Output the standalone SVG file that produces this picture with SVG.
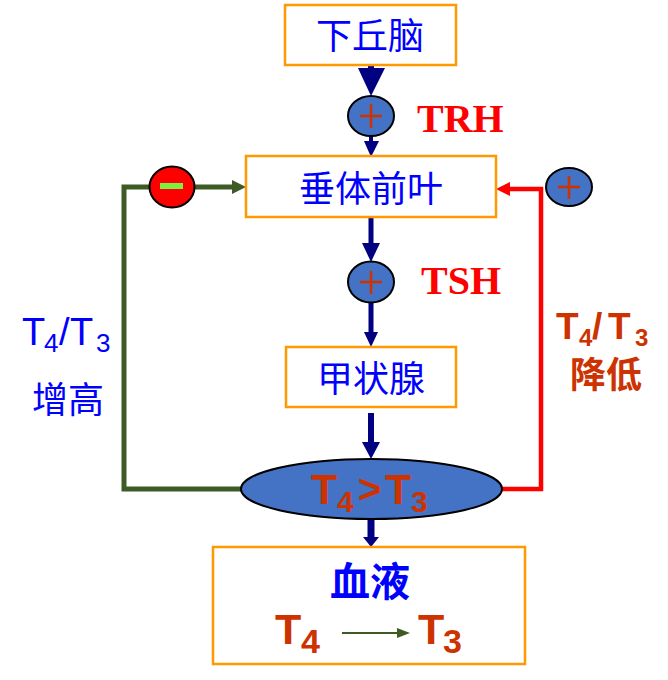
<svg xmlns="http://www.w3.org/2000/svg" width="668" height="680" viewBox="0 0 668 680">
<style>
.box{fill:#fff;stroke:#FF9900;stroke-width:2.5}
.cj{font-family:"Noto Sans CJK SC","Liberation Sans",sans-serif;fill:#0000FF;text-anchor:middle}
.tnr{font-family:"Liberation Serif",serif;font-weight:bold;fill:#FF0000}
.sans{font-family:"Liberation Sans","Noto Sans CJK SC",sans-serif}
.orng{fill:#CC3300}
.navy{fill:#000080}
.nav{stroke:#000080;fill:none}
.circ{fill:#4472C4;stroke:#000;stroke-width:2}
.plus{stroke:#CC3300;stroke-width:2.5;fill:none}
</style>
<rect width="668" height="680" fill="#fff"/>
<g id="connectors">
  <line class="nav" x1="371" y1="66" x2="371" y2="72" stroke-width="6"/>
  <polygon class="navy" points="358,68 385,68 371,96"/>
  <line class="nav" x1="371" y1="136" x2="371" y2="143" stroke-width="4"/>
  <polygon class="navy" points="364,141 379,141 371,157"/>
  <line class="nav" x1="371" y1="218" x2="371" y2="246" stroke-width="5"/>
  <polygon class="navy" points="362,243 380,243 371,262"/>
  <line class="nav" x1="371" y1="302" x2="371" y2="334" stroke-width="5"/>
  <polygon class="navy" points="364,332 378,332 371,347"/>
  <line class="nav" x1="371" y1="413" x2="371" y2="444" stroke-width="6"/>
  <polygon class="navy" points="362,442 380,442 371,459"/>
  <line class="nav" x1="371" y1="519" x2="371" y2="539" stroke-width="7"/>
  <polygon class="navy" points="363,537 379,537 371,547"/>
  <polyline points="241,489 124,489 124,187 234,187" fill="none" stroke="#3E5B26" stroke-width="5"/>
  <polygon points="232,180 246,187 232,194" fill="#3E5B26"/>
  <polyline points="502,489 541,489 541,189 508,189" fill="none" stroke="#FF0000" stroke-width="4.5"/>
  <polygon points="510,182 496,189 510,196" fill="#FF0000"/>
</g>
<g id="hypothalamus">
  <rect class="box" x="285" y="5" width="171" height="60"/>
  <text class="cj" x="370" y="49" font-size="36">下丘脑</text>
</g>
<g id="trh">
  <ellipse class="circ" cx="371" cy="116" rx="23" ry="20"/>
  <path class="plus" d="M360,116H382M371,104V128"/>
  <text class="tnr" x="417" y="132" font-size="40">TRH</text>
</g>
<g id="pituitary">
  <rect class="box" x="246" y="156" width="250" height="61"/>
  <text class="cj" x="371" y="202" font-size="36">垂体前叶</text>
</g>
<g id="minus">
  <ellipse cx="172" cy="187" rx="22.5" ry="20.5" fill="#FF0000" stroke="#000" stroke-width="2"/>
  <rect x="160" y="183" width="23" height="6" fill="#7CF03C"/>
</g>
<g id="plus-right">
  <ellipse class="circ" cx="569" cy="187" rx="23" ry="19"/>
  <path class="plus" d="M558,187H580M569,176V199"/>
</g>
<g id="tsh">
  <ellipse class="circ" cx="371" cy="282" rx="23" ry="20.5"/>
  <path class="plus" d="M360,282H382M371,271V294"/>
  <text class="tnr" x="421" y="294" font-size="40">TSH</text>
</g>
<g id="thyroid">
  <rect class="box" x="286" y="347" width="170" height="60"/>
  <text class="cj" x="371" y="392" font-size="36">甲状腺</text>
</g>
<g id="t4t3">
  <ellipse cx="371.5" cy="489" rx="130.5" ry="30" fill="#4472C4" stroke="#000" stroke-width="2"/>
  <text class="sans orng" font-weight="bold"><tspan x="311" y="504" font-size="43">T</tspan><tspan x="337" y="512" font-size="30">4</tspan><tspan x="358" y="503" font-size="40">&gt;</tspan><tspan x="385" y="504" font-size="43">T</tspan><tspan x="411" y="512" font-size="30">3</tspan></text>
</g>
<g id="blood">
  <rect class="box" x="213" y="547" width="312" height="117"/>
  <text class="cj" x="370" y="596" font-size="40" font-weight="bold">血液</text>
  <text class="sans orng" font-weight="bold"><tspan x="275" y="644" font-size="43">T</tspan><tspan x="301" y="653" font-size="34">4</tspan></text>
  <line x1="342" y1="633" x2="400" y2="633" stroke="#3E5B26" stroke-width="2"/>
  <polygon points="397,628 410,633 397,638" fill="#3E5B26"/>
  <text class="sans orng" font-weight="bold"><tspan x="418" y="644" font-size="43">T</tspan><tspan x="443" y="653" font-size="34">3</tspan></text>
</g>
<g id="label-left">
  <text class="sans" fill="#0000FF"><tspan x="22" y="345" font-size="38">T</tspan><tspan x="44" y="352" font-size="26">4</tspan><tspan x="59" y="345" font-size="38">/</tspan><tspan x="70" y="345" font-size="38">T</tspan><tspan x="96" y="352" font-size="26">3</tspan></text>
  <text class="cj" x="68" y="413" font-size="36">增高</text>
</g>
<g id="label-right">
  <text class="sans orng" font-weight="bold"><tspan x="556" y="339" font-size="37">T</tspan><tspan x="579" y="346" font-size="24">4</tspan><tspan x="592" y="339" font-size="37">/</tspan><tspan x="608" y="339" font-size="37">T</tspan><tspan x="635" y="346" font-size="24">3</tspan></text>
  <text class="cj" x="606" y="388" font-size="36" font-weight="bold" style="fill:#CC3300">降低</text>
</g>
</svg>
